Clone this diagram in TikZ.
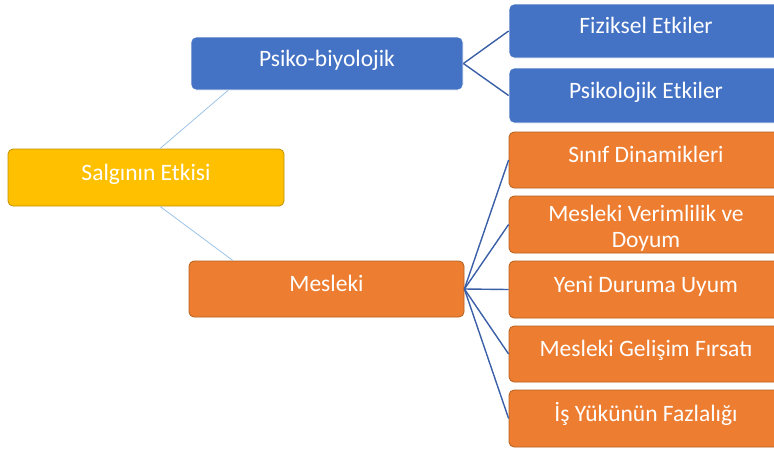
\documentclass[tikz,border=0pt]{standalone}
\usepackage{fontspec}
\setmainfont{Carlito}
\usepackage{tikz}
\definecolor{boxyellow}{HTML}{FFC000}
\definecolor{edgeyellow}{HTML}{C09100}
\definecolor{boxblue}{HTML}{4472C4}
\definecolor{boxorange}{HTML}{ED7D31}
\definecolor{edgeorange}{HTML}{B5611F}
\definecolor{linkblue}{HTML}{3A5FA6}
\definecolor{linklight}{HTML}{9DC3E6}
\tikzset{
    box/.style={
            rounded corners=5pt, text=white, inner sep=0pt, align=center,
            font=\fontsize{23.5}{26}\selectfont,
            text height=16pt, text depth=11pt
        },
    yellowbox/.style={box, fill=boxyellow, draw=edgeyellow, line width=0.8pt},
    bluebox/.style={box, fill=boxblue, draw=white, line width=0.8pt},
    orangebox/.style={box, fill=boxorange, draw=edgeorange, line width=0.8pt},
    leafbox/.style={minimum width=274pt},
    light link/.style={draw=linklight, line width=0.8pt},
    dark link/.style={draw=linkblue, line width=1.4pt},
}

\begin{document}
\begin{tikzpicture}[x=1pt, y=-1pt]
        \useasboundingbox (0, 0) rectangle (774, 451);
        %root
        \node[yellowbox, minimum width=276pt, minimum height=57pt] (salgin) at (146, 177.5) {Salgının Etkisi};
        %second level
        \node[bluebox, minimum width=272pt, minimum height=53pt] (psiko) at (327, 63.5) {Psiko-biyolojik};
        \node[orangebox, minimum width=275pt, minimum height=56pt] (mesleki) at (326.5, 289) {Mesleki};
        %leaves of psiko-biyolojik
        \node[bluebox, leafbox, minimum height=54pt] (fiziksel) at (646, 31) {Fiziksel Etkiler};
        \node[bluebox, leafbox, minimum height=55pt] (psikolojik) at (646, 95.5) {Psikolojik Etkiler};
        %leaves of mesleki
        \node[orangebox, leafbox, minimum height=56pt] (sinif) at (646, 160) {Sınıf Dinamikleri};
        \node[orangebox, leafbox, minimum height=57pt, text height=51pt, text depth=6pt] (verim) at (646, 224.5) {Mesleki Verimlilik ve\\Doyum};
        \node[orangebox, leafbox, minimum height=57pt] (uyum) at (646, 289.5) {Yeni Duruma Uyum};
        \node[orangebox, leafbox, minimum height=56pt] (gelisim) at (646, 354) {Mesleki Gelişim Fırsatı};
        \node[orangebox, leafbox, minimum height=57pt] (isyuku) at (646, 418.5) {İş Yükünün Fazlalığı};
        %links from root
        \draw[light link] ([xshift=14pt]salgin.north) -- ([xshift=-99pt]psiko.south);
        \draw[light link] ([xshift=14pt]salgin.south) -- ([xshift=-93.5pt]mesleki.north);
        %links to leaves
        \foreach \leaf in {fiziksel, psikolojik}
            \draw[dark link] (psiko.east) -- (\leaf.west);
        \foreach \leaf in {sinif, verim, uyum, gelisim, isyuku}
            \draw[dark link] (mesleki.east) -- (\leaf.west);
    \end{tikzpicture}
\end{document}
